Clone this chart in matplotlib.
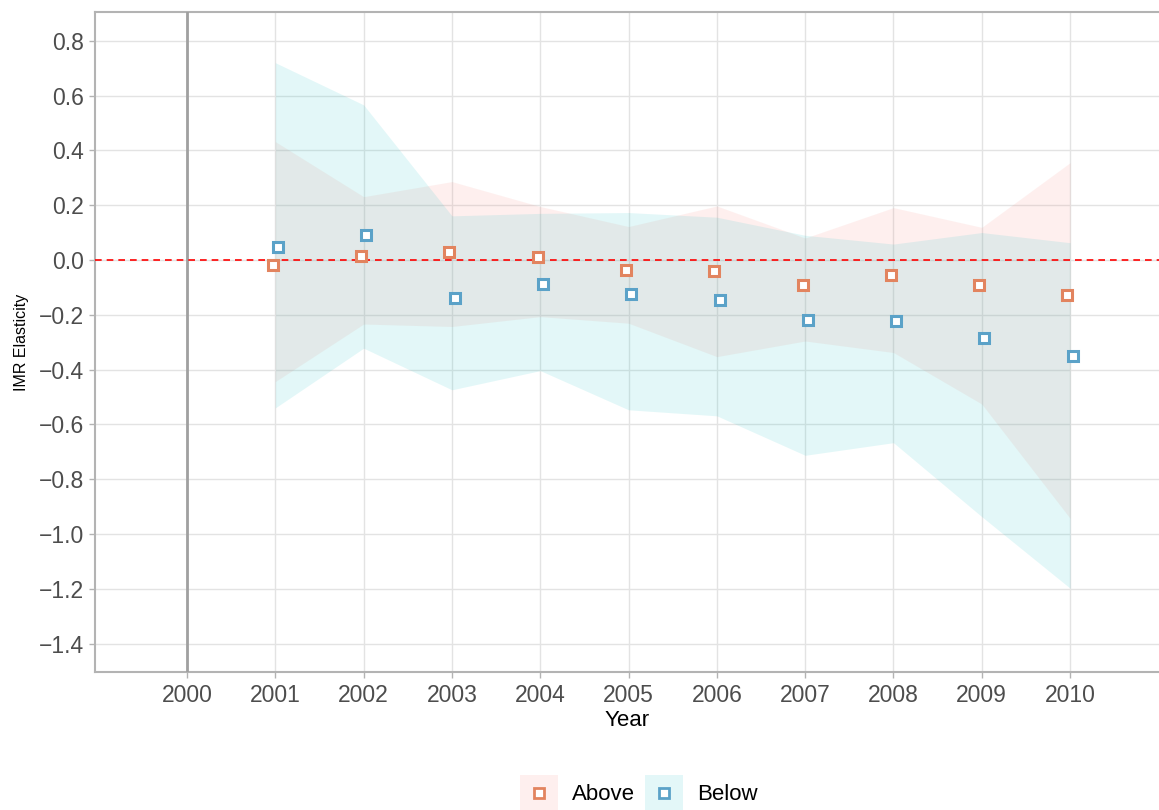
import matplotlib
matplotlib.use("Agg")
import matplotlib.pyplot as plt
from matplotlib.patches import Rectangle
from matplotlib.lines import Line2D
import numpy as np

plt.rcParams['font.family'] = ['Liberation Sans', 'DejaVu Sans']

years = [2001, 2002, 2003, 2004, 2005, 2006, 2007, 2008, 2009, 2010]
above_est = [-0.018, 0.016, 0.028, 0.011, -0.035, -0.041, -0.090, -0.056, -0.091, -0.129]
above_hi = [0.432, 0.231, 0.286, 0.195, 0.122, 0.197, 0.080, 0.191, 0.119, 0.355]
above_lo = [-0.444, -0.234, -0.243, -0.207, -0.231, -0.353, -0.296, -0.338, -0.526, -0.943]
below_est = [0.049, 0.091, -0.140, -0.088, -0.123, -0.146, -0.221, -0.223, -0.285, -0.349]
below_hi = [0.720, 0.566, 0.161, 0.170, 0.173, 0.156, 0.090, 0.058, 0.100, 0.063]
below_lo = [-0.540, -0.322, -0.474, -0.404, -0.547, -0.569, -0.713, -0.667, -0.937, -1.198]

x_ticks = list(range(2000, 2011))
y_ticks = [-1.4, -1.2, -1.0, -0.8, -0.6, -0.4, -0.2, 0.0, 0.2, 0.4, 0.6, 0.8]
series_names = ["Above", "Below"]

fill_above = "#F8766D"
fill_below = "#00BFC4"
pt_above = "#E2845F"
pt_below = "#5BA2C8"

W, H = 1159, 810
fig = plt.figure(figsize=(W / 100, H / 100), dpi=100)
ax = fig.add_axes([95 / W, (H - 672) / H, (W - 95) / W, (672 - 12) / H])

yrs = np.array(years, dtype=float)
ax.fill_between(yrs, above_lo, above_hi, color=fill_above, alpha=0.11, lw=0, zorder=2)
ax.fill_between(yrs, below_lo, below_hi, color=fill_below, alpha=0.11, lw=0, zorder=2)

dodge = 0.03
ax.plot(yrs - dodge, above_est, ls='none', marker='s', ms=7.5, mfc='white',
        mec=pt_above, mew=2.2, zorder=5)
ax.plot(yrs + dodge, below_est, ls='none', marker='s', ms=7.5, mfc='white',
        mec=pt_below, mew=2.2, zorder=5)

ax.axhline(0, color='#FF0000', ls=(0, (4, 3)), lw=1.2, zorder=4)
ax.axvline(2000, color='#A0A0A0', lw=2.0, zorder=3)

ax.set_xlim(1998.958, 2011.007)
ax.set_ylim(-1.504, 0.905)
ax.set_xticks(x_ticks)
ax.set_yticks(y_ticks)
ax.set_xticklabels([str(v) for v in x_ticks])
ax.set_yticklabels([("\u2212" if v < 0 else "") + f"{abs(v):.1f}" for v in y_ticks])
ax.grid(True, color='#E3E3E3', lw=1.0, zorder=0)
ax.set_axisbelow(True)

for s in ['left', 'top', 'bottom']:
    ax.spines[s].set_color('#B3B3B3')
    ax.spines[s].set_linewidth(1.5)
ax.spines['right'].set_visible(False)
ax.tick_params(axis='both', colors='#B3B3B3', length=4, width=1.0,
               labelcolor='#4D4D4D', labelsize=16.5)
ax.tick_params(axis='x', pad=5)
ax.tick_params(axis='y', pad=4)

ax.set_xlabel("Year", fontsize=16, color='black', labelpad=2)
ax.set_ylabel("IMR Elasticity", fontsize=11.5, color='black', labelpad=7)

# legend
def fx(px):
    return px / W

def fy(py):
    return (H - py) / H

keys = [(520, series_names[0], fill_above, pt_above, 572),
        (645, series_names[1], fill_below, pt_below, 697)]
for kx, name, fc, pc, tx in keys:
    fig.add_artist(Rectangle((fx(kx), fy(810)), 38 / W, 35 / H,
                             transform=fig.transFigure, facecolor=fc, alpha=0.11, lw=0))
    fig.add_artist(Line2D([fx(kx + 19)], [fy(793)], transform=fig.transFigure,
                          marker='s', ms=6.5, mfc='white', mec=pc, mew=2.0, ls='none'))
    fig.text(fx(tx), fy(794), name, fontsize=16, color='black', va='center', ha='left')

fig.savefig("out.png", dpi=100)
